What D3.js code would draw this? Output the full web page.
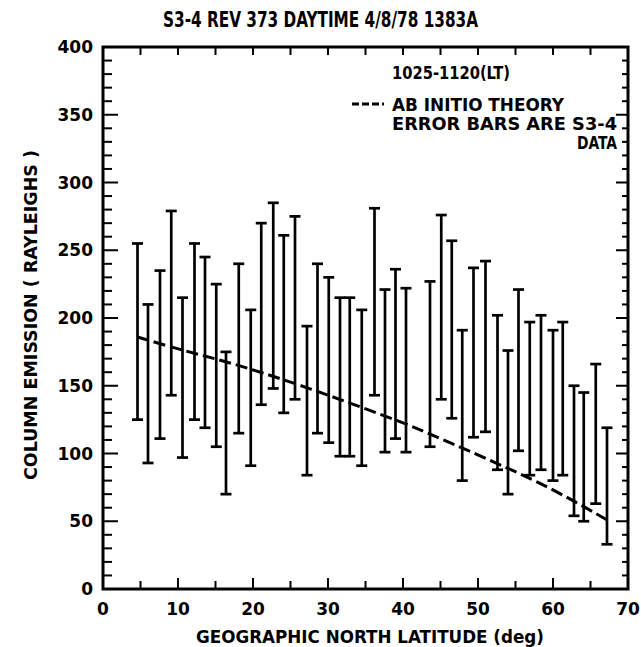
<!DOCTYPE html>
<html>
<head>
<meta charset="utf-8">
<script src="https://cdn.jsdelivr.net/npm/d3@7"></script>
<style>
  body { margin: 0; background: #fff; }
  text { font-family: "Liberation Sans Narrow", "DejaVu Sans Condensed", sans-serif; font-weight: bold; fill: #000; }
  text.num { font-family: "DejaVu Sans", sans-serif; }
</style>
</head>
<body>
<script>
// S3-4 column emission vs latitude

// error bars: latitude, low, high (Rayleighs)
var barLat  = [4.6, 6.0, 7.6, 9.1, 10.6, 12.2, 13.6, 15.1, 16.4, 18.1, 19.7, 21.1, 22.7, 24.1,
               25.6, 27.2, 28.6, 30.1, 31.6, 32.9, 34.5, 36.2, 37.6, 39.0, 40.4, 43.6, 45.1,
               46.5, 47.9, 49.4, 51.0, 52.6, 54.0, 55.4, 56.9, 58.4, 60.0, 61.3, 62.8, 64.1,
               65.7, 67.2];
var barLow  = [125, 93, 111, 143, 97, 125, 119, 105, 70, 115, 91, 136, 148, 130,
               140, 84, 115, 108, 98, 98, 91, 143, 101, 111, 101, 105, 140,
               126, 80, 112, 116, 88, 70, 102, 84, 88, 80, 84, 54, 50,
               63, 33];
var barHigh = [255, 210, 235, 279, 215, 255, 245, 225, 175, 240, 206, 270, 285, 261,
               275, 194, 240, 230, 215, 215, 206, 281, 221, 236, 222, 227, 276,
               257, 191, 237, 242, 202, 176, 221, 197, 202, 191, 197, 150, 145,
               166, 119];

// ab initio theory curve
var theoryLat = [4.6, 10, 16.4, 22.7, 28.6, 34.5, 40.4, 45, 50, 54, 58, 62.8, 67.2];
var theoryVal = [186, 177, 168, 157, 146, 134, 122, 111, 99, 89, 79, 65, 51];

var xTicks = [0, 10, 20, 30, 40, 50, 60, 70];
var yTicks = [0, 50, 100, 150, 200, 250, 300, 350, 400];

var svgWidth = 641;
var svgHeight = 647;

var margin = { top: 47, right: 13, bottom: 58, left: 103 };
var chartWidth = svgWidth - margin.left - margin.right;
var chartHeight = svgHeight - margin.top - margin.bottom;

var svg = d3.select('body').append('svg')
  .attr('width', svgWidth)
  .attr('height', svgHeight);

var chart = svg.append('g')
  .attr('transform', `translate(${margin.left}, ${margin.top})`);

var xScale = d3.scaleLinear().domain([0, 70]).range([0, chartWidth]);
var yScale = d3.scaleLinear().domain([0, 400]).range([chartHeight, 0]);

// frame
chart.append('rect')
  .attr('width', chartWidth)
  .attr('height', chartHeight)
  .attr('fill', 'none')
  .attr('stroke', '#000')
  .attr('stroke-width', 3);

// inward ticks on all four sides
var xMinor = d3.range(5, 70, 5);
var yMinor = d3.range(10, 400, 10);

var tickG = chart.append('g').attr('stroke', '#000').attr('stroke-width', 2);

tickG.selectAll('.xb').data(xMinor).enter().append('line')
  .attr('x1', d => xScale(d)).attr('x2', d => xScale(d))
  .attr('y1', chartHeight).attr('y2', d => chartHeight - (d % 10 === 0 ? 11 : 8));

tickG.selectAll('.xt').data(xMinor).enter().append('line')
  .attr('x1', d => xScale(d)).attr('x2', d => xScale(d))
  .attr('y1', 0).attr('y2', 8);

tickG.selectAll('.yl').data(yMinor).enter().append('line')
  .attr('y1', d => yScale(d)).attr('y2', d => yScale(d))
  .attr('x1', 0).attr('x2', d => d % 50 === 0 ? 15 : 9);

tickG.selectAll('.yr').data(yMinor).enter().append('line')
  .attr('y1', d => yScale(d)).attr('y2', d => yScale(d))
  .attr('x1', chartWidth).attr('x2', d => chartWidth - (d % 50 === 0 ? 12 : 6));

// tick labels
chart.selectAll('.xlab').data(xTicks).enter().append('text')
  .attr('class', 'num')
  .attr('x', d => xScale(d))
  .attr('y', chartHeight + 26)
  .attr('text-anchor', 'middle')
  .attr('font-size', 17)
  .text(d => d);

chart.selectAll('.ylab').data(yTicks).enter().append('text')
  .attr('class', 'num')
  .attr('x', -10)
  .attr('y', d => yScale(d) + 6)
  .attr('text-anchor', 'end')
  .attr('font-size', 17)
  .text(d => d);

// error bars
var bars = barLat.map((d, i) => ({ lat: d, lo: barLow[i], hi: barHigh[i] }));
var barG = chart.append('g').attr('stroke', '#000').attr('stroke-width', 2.7);

barG.selectAll('.bar').data(bars).enter().append('line')
  .attr('x1', d => xScale(d.lat)).attr('x2', d => xScale(d.lat))
  .attr('y1', d => yScale(d.lo)).attr('y2', d => yScale(d.hi));

barG.selectAll('.capHi').data(bars).enter().append('line')
  .attr('x1', d => xScale(d.lat) - 5.5).attr('x2', d => xScale(d.lat) + 5.5)
  .attr('y1', d => yScale(d.hi)).attr('y2', d => yScale(d.hi));

barG.selectAll('.capLo').data(bars).enter().append('line')
  .attr('x1', d => xScale(d.lat) - 5.5).attr('x2', d => xScale(d.lat) + 5.5)
  .attr('y1', d => yScale(d.lo)).attr('y2', d => yScale(d.lo));

// theory line
var line = d3.line()
  .x((d, i) => xScale(d))
  .y((d, i) => yScale(theoryVal[i]))
  .curve(d3.curveBasis);

chart.append('path')
  .datum(theoryLat)
  .attr('d', line)
  .attr('fill', 'none')
  .attr('stroke', '#000')
  .attr('stroke-width', 3)
  .attr('stroke-dasharray', '12,5');

// legend
chart.append('text')
  .attr('x', 289).attr('y', 32)
  .attr('font-size', 18)
  .attr('textLength', 118).attr('lengthAdjust', 'spacingAndGlyphs')
  .text('1025-1120(LT)');

chart.append('line')
  .attr('x1', 249).attr('x2', 281)
  .attr('y1', 57).attr('y2', 57)
  .attr('stroke', '#000').attr('stroke-width', 3)
  .attr('stroke-dasharray', '7,3');

chart.append('text')
  .attr('x', 289).attr('y', 64)
  .attr('font-size', 18)
  .attr('textLength', 172).attr('lengthAdjust', 'spacingAndGlyphs')
  .text('AB INITIO THEORY');

chart.append('text')
  .attr('x', 289).attr('y', 83)
  .attr('font-size', 18)
  .attr('textLength', 225).attr('lengthAdjust', 'spacingAndGlyphs')
  .text('ERROR BARS ARE S3-4');

chart.append('text')
  .attr('x', 514).attr('y', 102)
  .attr('font-size', 18)
  .attr('text-anchor', 'end')
  .attr('textLength', 40).attr('lengthAdjust', 'spacingAndGlyphs')
  .text('DATA');

// title and axis labels
svg.append('text')
  .attr('x', 163).attr('y', 27)
  .attr('font-size', 22)
  .attr('textLength', 315).attr('lengthAdjust', 'spacingAndGlyphs')
  .text('S3-4 REV 373 DAYTIME 4/8/78 1383A');

svg.append('text')
  .attr('x', 196).attr('y', 643)
  .attr('font-size', 18)
  .attr('textLength', 348).attr('lengthAdjust', 'spacingAndGlyphs')
  .text('GEOGRAPHIC NORTH LATITUDE (deg)');

svg.append('text')
  .attr('transform', 'rotate(-90)')
  .attr('x', -480).attr('y', 37)
  .attr('font-size', 17)
  .attr('textLength', 330).attr('lengthAdjust', 'spacingAndGlyphs')
  .text('COLUMN EMISSION ( RAYLEIGHS )');
</script>
</body>
</html>
